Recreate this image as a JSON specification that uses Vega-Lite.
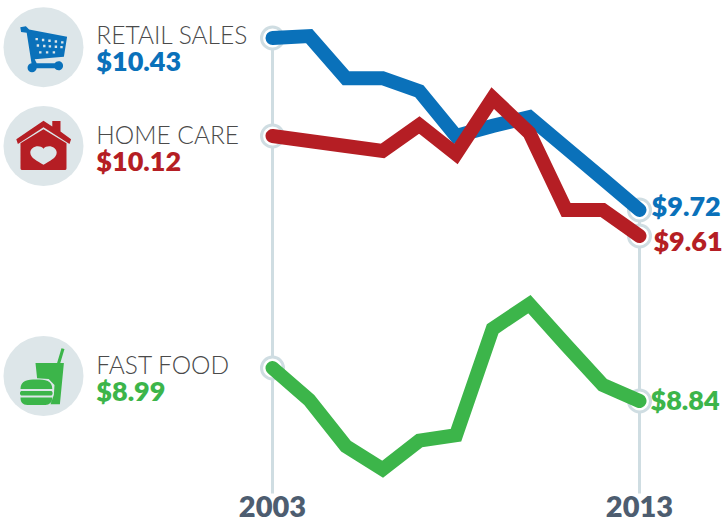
{"$schema":"https://vega.github.io/schema/vega-lite/v6.json","width":722,"height":526,"padding":0,"autosize":"none","background":"white","config":{"view":{"stroke":null}},
"datasets":{
"series":[
{"series":"Retail Sales","year":2003,"value":10.43},{"series":"Retail Sales","year":2004,"value":10.436},{"series":"Retail Sales","year":2005,"value":10.303},{"series":"Retail Sales","year":2006,"value":10.303},{"series":"Retail Sales","year":2007,"value":10.262},{"series":"Retail Sales","year":2008,"value":10.12},{"series":"Retail Sales","year":2009,"value":10.152},{"series":"Retail Sales","year":2010,"value":10.18},{"series":"Retail Sales","year":2011,"value":10.055},{"series":"Retail Sales","year":2012,"value":9.888},{"series":"Retail Sales","year":2013,"value":9.72},
{"series":"Home Care","year":2003,"value":10.12},{"series":"Home Care","year":2004,"value":10.093},{"series":"Home Care","year":2005,"value":10.066},{"series":"Home Care","year":2006,"value":10.039},{"series":"Home Care","year":2007,"value":10.155},{"series":"Home Care","year":2008,"value":10.023},{"series":"Home Care","year":2009,"value":10.24},{"series":"Home Care","year":2010,"value":10.13},{"series":"Home Care","year":2011,"value":9.72},{"series":"Home Care","year":2012,"value":9.72},{"series":"Home Care","year":2013,"value":9.61},
{"series":"Fast Food","year":2003,"value":8.99},{"series":"Fast Food","year":2004,"value":8.845},{"series":"Fast Food","year":2005,"value":8.635},{"series":"Fast Food","year":2006,"value":8.53},{"series":"Fast Food","year":2007,"value":8.66},{"series":"Fast Food","year":2008,"value":8.685},{"series":"Fast Food","year":2009,"value":9.174},{"series":"Fast Food","year":2010,"value":9.29},{"series":"Fast Food","year":2011,"value":9.098},{"series":"Fast Food","year":2012,"value":8.913},{"series":"Fast Food","year":2013,"value":8.84}],
"rings":[{"year":2003,"value":10.43},{"year":2003,"value":10.12},{"year":2003,"value":8.99},{"year":2013,"value":9.72},{"year":2013,"value":9.61},{"year":2013,"value":8.84}],
"stems":[{"year":2003,"top":10.43,"bottom":8.42},{"year":2013,"top":9.72,"bottom":8.42}],
"icons":[{"series":"Retail Sales","x":1996.76,"y":10.401},{"series":"Home Care","x":1996.76,"y":10.066},{"series":"Fast Food","x":1996.76,"y":8.954}],
"names":[{"label":"RETAIL SALES","x":1998.2,"y":10.436},{"label":"HOME CARE","x":1998.2,"y":10.12},{"label":"FAST FOOD","x":1998.2,"y":8.999}],
"values":[{"series":"Retail Sales","label":"$10.43","x":1998.2,"y":10.354},{"series":"Home Care","label":"$10.12","x":1998.2,"y":9.979},{"series":"Fast Food","label":"$8.99","x":1998.2,"y":8.881},{"series":"Retail Sales","label":"$9.72","x":2013.33,"y":9.736},{"series":"Home Care","label":"$9.61","x":2013.38,"y":9.582},{"series":"Fast Food","label":"$8.84","x":2013.3,"y":8.838}],
"years":[{"label":"2003","x":2003,"y":8.358},{"label":"2013","x":2013,"y":8.358}]
},
"layer":[
{"data":{"name":"stems"},"mark":{"type":"rule","color":"#cfdde2","strokeWidth":3},"encoding":{"x":{"field":"year","type":"quantitative","axis":null,"scale":{"domain":[2003,2013],"range":[272.5,639.5],"nice":false,"zero":false}},"y":{"field":"top","type":"quantitative","axis":null,"scale":{"domain":[8,8.84,8.99,9.61,9.72,10.12,10.43,10.6],"range":[586,401,368,236,210,136,38,-16],"nice":false,"zero":false}},"y2":{"field":"bottom"}}},
{"data":{"name":"rings"},"mark":{"type":"point","shape":"circle","filled":true,"fill":"white","stroke":"#cfdde2","strokeWidth":3,"opacity":1,"size":484},"encoding":{"x":{"field":"year","type":"quantitative"},"y":{"field":"value","type":"quantitative"}}},
{"data":{"name":"series"},"mark":{"type":"line","strokeWidth":14,"strokeCap":"round","strokeJoin":"miter"},"encoding":{"x":{"field":"year","type":"quantitative"},"y":{"field":"value","type":"quantitative"},"order":{"field":"year"},"detail":{"field":"series"},"color":{"field":"series","type":"nominal","legend":null,"scale":{"domain":["Retail Sales","Home Care","Fast Food"],"range":["#0a71ba","#b51e24","#3cb54a"]}}}},
{"data":{"name":"icons"},"mark":{"type":"point","shape":"circle","filled":true,"fill":"#dde6e9","stroke":null,"opacity":1,"size":6400},"encoding":{"x":{"field":"x","type":"quantitative"},"y":{"field":"y","type":"quantitative"}}},
{"data":{"name":"icons"},"transform":[{"filter":"datum.series==='Retail Sales'"}],"mark":{"type":"point","filled":true,"fill":"#0a71ba","stroke":null,"opacity":1,"size":6400,"shape":"M-.58 -.5 L-.44 -.52 L-.36 -.44 L.59 -.26 L.51 .24 L-.22 .3 L-.17 .4 L.28 .4 A.115 .115 0 1 1 .28 .53 L-.17 .53 A.115 .115 0 1 1 -.3 .4 L-.42 -.36 L-.56 -.38 Z M-.2 -.23 L-.2 -.17 L-.14 -.17 L-.14 -.23 Z M-.04 -.21 L-.04 -.15 L.02 -.15 L.02 -.21 Z M.12 -.19 L.12 -.13 L.18 -.13 L.18 -.19 Z M.28 -.17 L.28 -.11 L.34 -.11 L.34 -.17 Z M.44 -.15 L.44 -.09 L.5 -.09 L.5 -.15 Z M-.17 -.07 L-.17 -.01 L-.11 -.01 L-.11 -.07 Z M-.01 -.06 L-.01 0 L.05 0 L.05 -.06 Z M.13 -.05 L.13 .01 L.19 .01 L.19 -.05 Z M.28 -.04 L.28 .02 L.34 .02 L.34 -.04 Z M.42 -.03 L.42 .03 L.48 .03 L.48 -.03 Z M-.11 .1 L-.11 .16 L-.05 .16 L-.05 .1 Z M.06 .1 L.06 .16 L.12 .16 L.12 .1 Z M.23 .1 L.23 .16 L.29 .16 L.29 .1 Z"},"encoding":{"x":{"field":"x","type":"quantitative"},"y":{"field":"y","type":"quantitative"}}},
{"data":{"name":"icons"},"transform":[{"filter":"datum.series==='Home Care'"}],"mark":{"type":"point","filled":true,"fill":"#b51e24","stroke":null,"opacity":1,"size":6400,"shape":"M-.68 -.17 L0 -.63 L.22 -.49 L.22 -.625 L.425 -.625 L.425 -.36 L.69 -.17 L.65 -.05 L0 -.47 L-.64 -.05 Z M-.575 -.07 L0 -.42 L.575 -.07 L.575 .56 Q.575 .6 .53 .6 L-.53 .6 Q-.575 .6 -.575 .56 Z M0 .47 C.15 .38 .33 .3 .33 .17 C.33 .02 .1 -.05 0 .07 C-.1 -.05 -.33 .02 -.33 .17 C-.33 .3 -.15 .38 0 .47 Z"},"encoding":{"x":{"field":"x","type":"quantitative"},"y":{"field":"y","type":"quantitative"}}},
{"data":{"name":"icons"},"transform":[{"filter":"datum.series==='Fast Food'"}],"mark":{"type":"point","filled":true,"fill":"#3cb54a","stroke":null,"opacity":1,"size":6400,"shape":"M-.2 -.32 L.34 -.32 L.45 -.69 L.525 -.675 L.42 -.32 L.51 -.32 L.41 .71 L.175 .71 L.26 .47 L.275 .225 L.13 .08 L-.16 .06 Z M-.575 .325 C-.575 .12 -.4 .09 -.18 .09 C.05 .09 .22 .12 .22 .325 Z M-.56 .375 L.2 .375 Q.258 .43 .2 .49 L-.56 .49 Q-.617 .43 -.56 .375 Z M-.575 .54 L.217 .54 C.217 .66 .15 .725 .05 .725 L-.4 .725 C-.52 .725 -.575 .66 -.575 .54 Z"},"encoding":{"x":{"field":"x","type":"quantitative"},"y":{"field":"y","type":"quantitative"}}},
{"data":{"name":"names"},"mark":{"type":"text","align":"left","baseline":"middle","dy":1,"font":"Lato","fontWeight":300,"fontSize":24.5,"color":"#4a4a4a"},"encoding":{"x":{"field":"x","type":"quantitative"},"y":{"field":"y","type":"quantitative"},"text":{"field":"label"}}},
{"data":{"name":"values"},"mark":{"type":"text","align":"left","baseline":"middle","dy":1,"font":"Lato","fontWeight":800,"fontSize":27},"encoding":{"x":{"field":"x","type":"quantitative"},"y":{"field":"y","type":"quantitative"},"text":{"field":"label"},"color":{"field":"series","type":"nominal","legend":null}}},
{"data":{"name":"years"},"mark":{"type":"text","align":"center","baseline":"middle","dy":1,"font":"Lato","fontWeight":800,"fontSize":29,"color":"#4d5d70"},"encoding":{"x":{"field":"x","type":"quantitative"},"y":{"field":"y","type":"quantitative"},"text":{"field":"label"}}}
]}
